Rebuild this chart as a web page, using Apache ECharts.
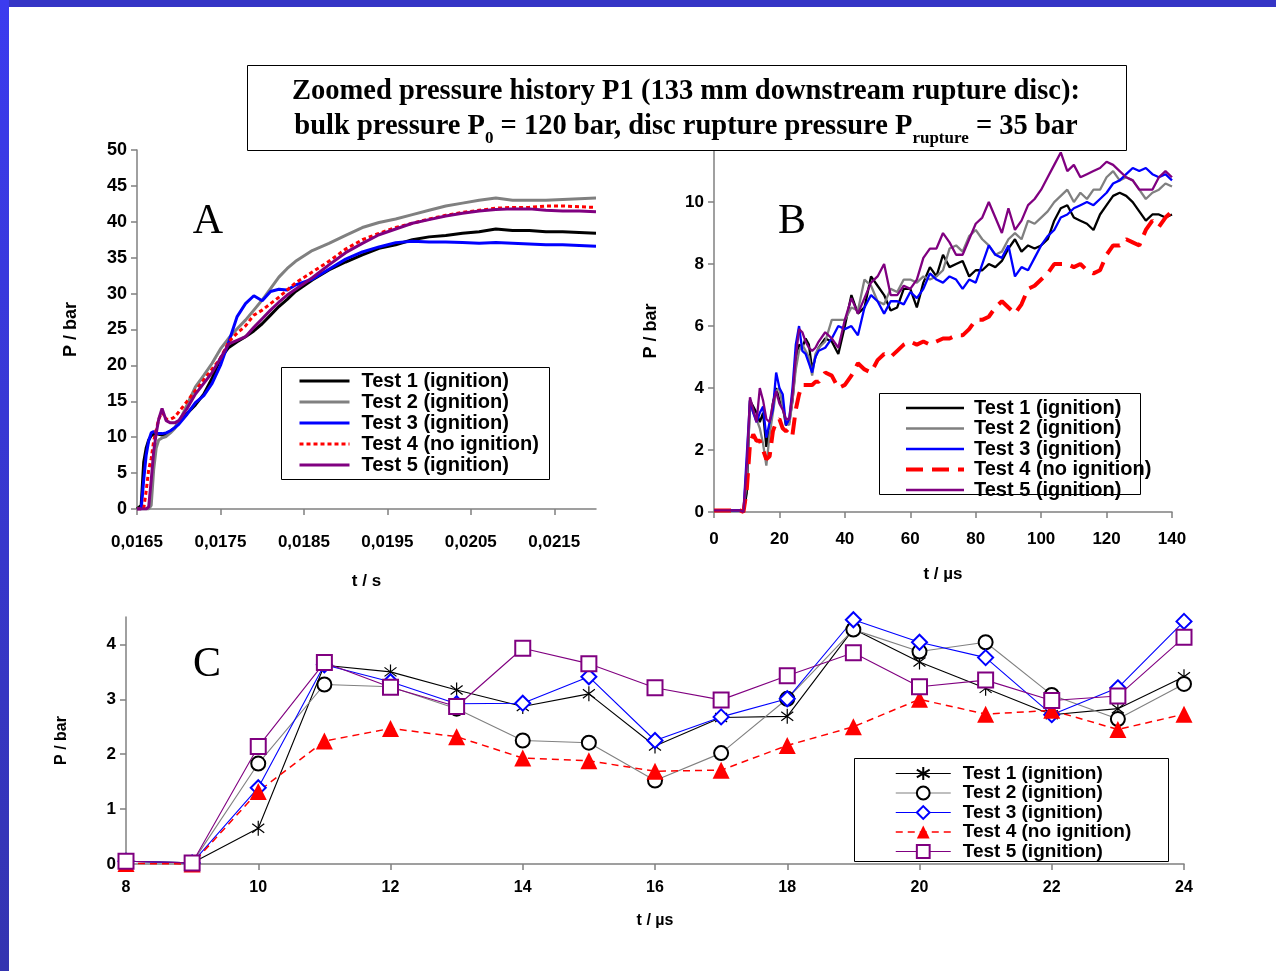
<!DOCTYPE html>
<html>
<head>
<meta charset="utf-8">
<script src="https://cdn.jsdelivr.net/npm/echarts@6/dist/echarts.min.js"></script>
<style>
html,body{margin:0;padding:0;background:#fff;}
#main{width:1276px;height:971px;}
</style>
</head>
<body>
<div id="main"></div>
<script>
// ---------- DATA ----------
const NAMES = ['Test 1 (ignition)','Test 2 (ignition)','Test 3 (ignition)','Test 4 (no ignition)','Test 5 (ignition)'];

// Chart A : time in s
const TA = [0.01650,0.01655,0.01658,0.01661,0.01664,0.01667,0.01670,0.01673,0.01676,0.01680,0.01685,0.01690,0.01695,0.0170,0.0171,0.0172,0.0173,0.0174,0.0175,0.0176,0.0177,0.0178,0.0179,0.0180,0.0181,0.0182,0.0183,0.0184,0.0186,0.0188,0.0190,0.0192,0.0194,0.0196,0.0198,0.0200,0.0202,0.0204,0.0206,0.0208,0.0210,0.0212,0.0214,0.0216,0.0218,0.0220];
const A_T1 = [0,0.5,6.5,8.5,9.6,10.2,10.4,10.5,10.4,10.3,10.4,10.8,11.3,12.0,13.3,14.5,16.0,18.2,21.0,22.5,23.3,24.0,24.8,25.8,27.0,28.2,29.2,30.3,31.9,33.3,34.4,35.4,36.3,36.8,37.5,37.9,38.1,38.4,38.6,39.0,38.8,38.8,38.6,38.6,38.5,38.4];
const A_T2 = [0,0,0,0,0,0.5,5.5,8.5,9.6,9.9,10.1,10.6,11.2,12.0,14.5,17.0,18.6,20.3,22.3,23.8,25.1,26.3,27.7,29.1,30.7,32.3,33.5,34.5,36.0,37.0,38.1,39.2,39.9,40.4,41.0,41.6,42.2,42.6,43.0,43.3,43.0,43.0,43.0,43.1,43.2,43.3];
const A_T3 = [0,0,4.0,7.5,9.5,10.6,10.8,10.6,10.5,10.5,10.6,10.9,11.3,11.8,13.2,14.8,15.8,17.5,20.0,23.3,26.8,28.6,29.7,29.0,30.3,30.6,30.5,31.2,32.0,33.4,34.8,35.8,36.5,37.1,37.3,37.2,37.2,37.1,37.0,37.1,37.0,36.9,36.8,36.8,36.7,36.6];
const A_T4 = [0,0,0,2.5,5.5,7.0,9.5,11.0,12.5,13.5,12.5,12.5,12.8,13.5,15.0,16.5,18.0,19.5,21.0,23.3,24.5,25.5,27.0,27.7,28.6,29.5,30.5,31.5,33.0,34.5,36.2,37.5,38.4,39.2,39.8,40.4,40.9,41.3,41.6,41.9,42.0,42.0,42.2,42.2,42.1,42.0];
const A_T5 = [0,0,0,0,0.3,4.0,8.0,10.5,12.5,14.0,12.3,12.0,12.0,12.3,14.0,16.0,17.5,19.0,21.0,23.0,23.5,24.0,25.3,26.5,27.7,28.8,29.8,30.6,32.2,34.0,35.7,37.0,38.2,39.0,39.8,40.3,40.8,41.2,41.5,41.7,41.8,41.8,41.6,41.5,41.5,41.4];
const A_XTICKS = [0.0165,0.0175,0.0185,0.0195,0.0205,0.0215];

// Chart B : time in µs
const TB = [0,2,4,6,8,9,10,11,12,13,14,15,16,17,18,19,20,21,22,23,24,25,26,27,28,29,30,31,32,34,36,38,40,42,44,46,48,50,52,54,56,58,60,62,64,66,68,70,72,74,76,78,80,82,84,86,88,90,92,94,96,98,100,102,104,106,108,110,112,114,116,118,120,122,124,126,128,130,132,134,136,138,140];
const B_T1 = [0.05,0.05,0.05,0.05,0.05,0,0.6,3.6,3.4,3.2,2.9,3.2,2.1,2.7,3.5,4.0,3.6,3.4,2.8,2.9,3.6,4.8,5.4,5.3,5.6,5.4,4.6,5.0,
  5.3,5.6,5.5,5.1,6.0,7.0,6.4,6.6,7.6,7.3,7.0,6.5,6.6,7.2,7.2,6.6,7.4,7.9,7.6,8.3,7.9,8.0,8.1,7.6,7.8,7.8,8.0,7.9,8.1,8.5,
  8.8,8.4,8.6,8.5,8.6,8.8,9.4,9.8,9.9,9.5,9.4,9.3,9.1,9.6,9.9,10.2,10.3,10.2,10.0,9.7,9.4,9.6,9.6,9.5,9.6];
const B_T2 = [0.05,0.05,0.05,0.05,0.05,0,1.0,3.5,3.2,3.0,2.7,2.2,1.5,2.5,3.2,3.9,4.0,3.4,2.9,2.8,3.6,4.6,5.2,5.4,5.2,5.0,4.4,5.1,
  5.3,5.5,6.2,6.2,6.2,6.6,6.5,7.5,7.3,6.8,6.7,7.2,7.1,7.5,7.5,7.4,7.6,7.5,7.6,7.8,8.5,8.6,8.4,8.9,9.1,8.8,8.6,8.3,8.4,8.8,
  9.0,8.8,9.4,9.3,9.5,9.7,10.0,10.2,10.4,10.0,10.3,10.1,10.4,10.4,10.8,11.0,10.7,10.8,10.7,10.4,10.1,10.3,10.4,10.6,10.5];
const B_T3 = [0.05,0.05,0.05,0.05,0.05,0,1.8,3.6,3.2,2.9,3.2,3.4,2.4,2.9,3.3,4.5,4.0,3.8,2.8,3.0,4.0,5.4,6.0,5.2,5.1,4.8,4.5,5.0,
  5.2,5.3,5.6,6.0,5.9,6.0,5.7,6.6,7.0,6.8,6.4,6.8,6.8,6.7,7.1,6.9,7.2,7.7,7.5,7.4,7.6,7.5,7.2,7.5,7.4,8.0,8.6,8.3,8.2,8.6,
  7.6,7.9,7.8,8.2,8.6,8.9,9.1,9.5,9.6,9.8,9.9,10.0,9.9,10.1,10.3,10.6,10.7,10.9,11.1,11.0,11.1,10.9,10.8,10.9,10.7];
const B_T4 = [0.05,0.05,0.05,0.05,0.05,0,0.7,2.2,2.5,2.3,2.3,2.0,1.7,1.8,2.6,2.9,3.0,2.7,2.6,2.7,2.5,3.3,3.8,4.1,4.1,4.1,4.1,4.2,
  4.2,4.5,4.4,4.0,4.1,4.4,4.8,4.6,4.5,4.9,5.1,5.0,5.2,5.4,5.5,5.4,5.5,5.4,5.5,5.6,5.6,5.7,5.7,5.9,6.2,6.2,6.3,6.6,6.8,6.6,
  6.4,6.7,7.2,7.3,7.5,7.7,8.0,8.0,8.0,7.9,8.0,7.8,7.7,7.8,8.3,8.6,8.6,8.8,8.7,8.6,9.1,9.4,9.2,9.5,9.7];
const B_T5 = [0.05,0.05,0.05,0.05,0.05,0,1.5,3.7,3.3,2.9,4.0,3.6,3.0,2.9,3.5,3.9,3.5,3.3,3.0,3.0,3.8,5.0,5.9,5.8,5.5,5.3,5.2,5.3,
  5.5,5.8,5.6,5.3,6.2,6.9,6.4,6.9,7.4,7.6,8.0,7.0,7.0,7.3,7.2,7.5,8.2,8.5,8.5,9.0,8.7,8.3,8.3,8.8,9.3,9.5,10.0,9.5,9.0,9.8,
  9.1,9.4,9.9,10.1,10.4,10.8,11.2,11.6,11.0,11.2,10.8,10.9,11.0,11.1,11.3,11.2,11.0,10.8,10.7,10.4,10.4,10.4,10.8,11.0,10.8];
const B_YTICKS = [0,2,4,6,8,10];

// Chart C : time in µs
const TC = [8,9,10,11,12,13,14,15,16,17,18,19,20,21,22,23,24];
const C_T1 = [0.05,0.02,0.65,3.62,3.50,3.17,2.87,3.10,2.15,2.67,2.69,4.28,3.68,3.20,2.72,2.83,3.41];
const C_T2 = [0.05,0.02,1.83,3.27,3.23,2.83,2.25,2.21,1.52,2.02,3.01,4.27,3.87,4.04,3.08,2.64,3.28];
const C_T3 = [0.05,0.02,1.39,3.63,3.32,2.92,2.93,3.41,2.25,2.68,3.01,4.45,4.04,3.76,2.72,3.21,4.42];
const C_T4 = [0.01,0.00,1.32,2.24,2.47,2.32,1.93,1.88,1.69,1.71,2.16,2.50,3.00,2.73,2.80,2.45,2.73];
const C_T5 = [0.05,0.02,2.14,3.67,3.22,2.87,3.93,3.65,3.21,2.99,3.43,3.85,3.23,3.35,2.98,3.06,4.13];
const C_YTICKS = [0,1,2,3,4];

// ---------- BUILD ----------
const zip = (xs, ys) => xs.map((x, i) => [x, ys[i]]);
const FONT = 'Liberation Sans';
const SERIF = 'Liberation Serif';
const COLORS = ['#000000', '#808080', '#0000ff', '#ff0000', '#800080'];
const AXC = '#808080';

function axisBase(extra) {
  return Object.assign({
    type: 'value',
    splitLine: { show: false },
    axisLine: { show: true, onZero: false, lineStyle: { color: AXC, width: 1.5 } },
    axisTick: { show: true, length: 6, lineStyle: { color: AXC, width: 1.5 } },
    axisLabel: { color: '#000', fontFamily: FONT, fontWeight: 'bold', fontSize: 17 },
    nameTextStyle: { color: '#000', fontFamily: FONT, fontWeight: 'bold', fontSize: 17 },
    nameLocation: 'middle'
  }, extra);
}

const chart = echarts.init(document.getElementById('main'), null, { renderer: 'canvas' });

const grids = [
  { left: 137, top: 150, width: 459, height: 359 },
  { left: 714, top: 150, width: 458, height: 362 },
  { left: 126, top: 617, width: 1058, height: 247 }
];

const xAxes = [
  axisBase({ gridIndex: 0, min: 0.0165, max: 0.022, name: 't / s', nameGap: 64,
    axisLabel: { color: '#000', fontFamily: FONT, fontWeight: 'bold', fontSize: 17, margin: 25,
      customValues: A_XTICKS, formatter: v => v.toFixed(4).replace('.', ',') },
    axisTick: { show: true, length: 6, lineStyle: { color: AXC, width: 1.5 }, customValues: A_XTICKS } }),
  axisBase({ gridIndex: 1, min: 0, max: 140, interval: 20, name: 't / µs', nameGap: 54,
    axisLabel: { color: '#000', fontFamily: FONT, fontWeight: 'bold', fontSize: 17, margin: 19 } }),
  axisBase({ gridIndex: 2, min: 8, max: 24, interval: 2, name: 't / µs', nameGap: 49,
    axisLabel: { color: '#000', fontFamily: FONT, fontWeight: 'bold', fontSize: 16, margin: 16 },
    nameTextStyle: { color: '#000', fontFamily: FONT, fontWeight: 'bold', fontSize: 16 } })
];

const yAxes = [
  axisBase({ gridIndex: 0, min: 0, max: 50, interval: 5, name: 'P / bar', nameGap: 57,
    axisLabel: { color: '#000', fontFamily: FONT, fontWeight: 'bold', fontSize: 18, margin: 10 },
    nameTextStyle: { color: '#000', fontFamily: FONT, fontWeight: 'bold', fontSize: 18 } }),
  axisBase({ gridIndex: 1, min: 0, max: 11.68, name: 'P / bar', nameGap: 54,
    axisLabel: { color: '#000', fontFamily: FONT, fontWeight: 'bold', fontSize: 17, margin: 10, customValues: B_YTICKS },
    axisTick: { show: true, length: 6, lineStyle: { color: AXC, width: 1.5 }, customValues: B_YTICKS },
    nameTextStyle: { color: '#000', fontFamily: FONT, fontWeight: 'bold', fontSize: 18 } }),
  axisBase({ gridIndex: 2, min: 0, max: 4.5, name: 'P / bar', nameGap: 56,
    axisLabel: { color: '#000', fontFamily: FONT, fontWeight: 'bold', fontSize: 17, margin: 10, customValues: C_YTICKS },
    axisTick: { show: true, length: 6, lineStyle: { color: AXC, width: 1.5 }, customValues: C_YTICKS },
    nameTextStyle: { color: '#000', fontFamily: FONT, fontWeight: 'bold', fontSize: 16 } })
];

const A_DATA = [A_T1, A_T2, A_T3, A_T4, A_T5];
const B_DATA = [B_T1, B_T2, B_T3, B_T4, B_T5];
const C_DATA = [C_T1, C_T2, C_T3, C_T4, C_T5];

const A_LINE = (i) => ({ color: COLORS[i], width: 3, type: i === 3 ? [4, 3] : 'solid' });
const B_LINE = (i) => ({ color: COLORS[i], width: i === 3 ? 4 : 2.3, type: i === 3 ? [17, 9] : 'solid' });
const C_LINE = (i) => ({ color: COLORS[i], width: i === 3 ? 1.5 : 1.1, type: i === 3 ? [7, 5] : 'solid' });

const series = [];
A_DATA.forEach((d, i) => {
  series.push({
    type: 'line', name: NAMES[i] + '#A', xAxisIndex: 0, yAxisIndex: 0,
    data: zip(TA, d), symbol: 'none', clip: true, animation: false,
    lineStyle: A_LINE(i), itemStyle: { color: COLORS[i] }
  });
});
B_DATA.forEach((d, i) => {
  series.push({
    type: 'line', name: NAMES[i] + '#B', xAxisIndex: 1, yAxisIndex: 1,
    data: zip(TB, d), symbol: 'none', clip: true, animation: false,
    lineStyle: B_LINE(i), itemStyle: { color: COLORS[i] }
  });
});
const ASTERISK = 'path://M10,0L10,20M2,4L18,16M2,16L18,4';
const C_SYMBOLS = [ASTERISK, 'emptyCircle', 'emptyDiamond', 'triangle', 'emptyRect'];
const C_SIZES = [15, 14, 15, 17, 15];
const C_MARKCOLORS = ['#000000', '#000000', '#0000ff', '#ff0000', '#800080'];
C_DATA.forEach((d, i) => {
  series.push({
    type: 'line', name: NAMES[i] + '#C', xAxisIndex: 2, yAxisIndex: 2,
    data: zip(TC, d), symbol: C_SYMBOLS[i], symbolSize: C_SIZES[i], showSymbol: true,
    symbolKeepAspect: true, clip: false, animation: false,
    lineStyle: C_LINE(i),
    itemStyle: i === 0
      ? { color: 'none', borderColor: '#000', borderWidth: 1.2 }
      : (i === 3 ? { color: '#ff0000' } : { color: C_MARKCOLORS[i], borderColor: C_MARKCOLORS[i], borderWidth: 1.2 })
  });
});

const legendFmt = n => n.replace(/#.*$/, '');
function legendCfg(suffix, lineFn, left, top, itemW, itemH, lh, gap, fs, textPad, hideSymbol) {
  const cfg = {
    data: NAMES.map((n, i) => ({ name: n + suffix, lineStyle: lineFn(i) })),
    orient: 'vertical', left: left, top: top,
    padding: 0, itemGap: gap, itemWidth: itemW, itemHeight: itemH, selectedMode: false,
    formatter: legendFmt,
    textStyle: { color: '#000', fontFamily: FONT, fontWeight: 'bold', fontSize: fs, lineHeight: lh, padding: [0, 0, 0, textPad] }
  };
  if (hideSymbol) cfg.itemStyle = { opacity: 0 };
  return cfg;
}

const legends = [
  legendCfg('#A', A_LINE, 298, 371, 50, 14, 20, 1, 20, 7, true),
  legendCfg('#B', B_LINE, 904, 398, 58, 14, 18, 0.5, 20, 5, true),
  legendCfg('#C', C_LINE, 895, 764, 55, 16, 18, 0.5, 19, 7, false)
];

const gradLeft = new echarts.graphic.LinearGradient(0, 0, 0, 1, [
  { offset: 0, color: '#3b3bef' }, { offset: 1, color: '#3434b0' }
]);

const graphic = [
  { type: 'rect', shape: { x: 0, y: 0, width: 1276, height: 7 }, style: { fill: '#3535c6' }, silent: true, z: 0 },
  { type: 'rect', shape: { x: 0, y: 0, width: 9, height: 971 }, style: { fill: gradLeft }, silent: true, z: 0 },
  { type: 'rect', shape: { x: 247.5, y: 65.5, width: 879, height: 85 }, style: { fill: '#fff', stroke: '#000', lineWidth: 1 }, z: 100 },
  { type: 'text', x: 686, y: 92, z: 101,
    style: { text: 'Zoomed pressure history P1 (133 mm downstream rupture disc):', fontFamily: SERIF, fontWeight: 'bold', fontSize: 28.5, fill: '#000', align: 'center', verticalAlign: 'middle' } },
  { type: 'text', x: 686, y: 112, z: 101,
    style: {
      text: '{n|bulk pressure P}{s|0}{n| = 120 bar, disc rupture pressure P}{s|rupture}{n| = 35 bar}',
      align: 'center', verticalAlign: 'top',
      rich: {
        n: { fontFamily: SERIF, fontWeight: 'bold', fontSize: 28.5, lineHeight: 28, verticalAlign: 'top', fill: '#000' },
        s: { fontFamily: SERIF, fontWeight: 'bold', fontSize: 17, lineHeight: 35, verticalAlign: 'bottom', fill: '#000' }
      }
    } },
  // legend boxes
  { type: 'rect', shape: { x: 281.5, y: 367.5, width: 268, height: 112 }, style: { fill: 'none', stroke: '#000', lineWidth: 1 }, z: 5 },
  { type: 'rect', shape: { x: 879.5, y: 393.5, width: 261, height: 101 }, style: { fill: 'none', stroke: '#000', lineWidth: 1 }, z: 5 },
  { type: 'rect', shape: { x: 854.5, y: 758.5, width: 314, height: 103 }, style: { fill: 'none', stroke: '#000', lineWidth: 1 }, z: 5 },
  // panel letters
  { type: 'text', x: 208, y: 222, z: 10, style: { text: 'A', fontFamily: SERIF, fontSize: 42, fill: '#000', align: 'center', verticalAlign: 'middle' } },
  { type: 'text', x: 792, y: 222, z: 10, style: { text: 'B', fontFamily: SERIF, fontSize: 42, fill: '#000', align: 'center', verticalAlign: 'middle' } },
  { type: 'text', x: 207, y: 665, z: 10, style: { text: 'C', fontFamily: SERIF, fontSize: 42, fill: '#000', align: 'center', verticalAlign: 'middle' } }
];

chart.setOption({
  backgroundColor: '#ffffff',
  animation: false,
  grid: grids,
  xAxis: xAxes,
  yAxis: yAxes,
  legend: legends,
  series: series,
  graphic: graphic
});
</script>
</body>
</html>
